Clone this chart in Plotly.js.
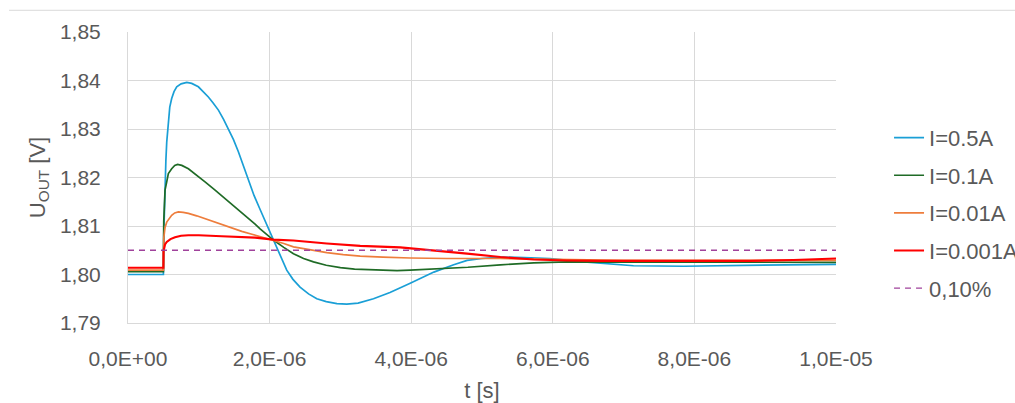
<!DOCTYPE html>
<html>
<head>
<meta charset="utf-8">
<script src="https://cdn.plot.ly/plotly-3.0.1.min.js"></script>
<style>html,body{margin:0;padding:0;background:#fff;}#chart{width:1015px;height:403px;}</style>
</head>
<body>
<div id="chart"></div>
<script>
// I = 0.5 A
const tA = [0, 5.0e-7, 5.05e-7, 5.12e-7, 5.23e-7, 5.35e-7, 5.47e-7, 5.7e-7, 5.9e-7, 6.17e-7, 6.5e-7, 6.88e-7,
  7.5e-7, 8.3e-7, 9.0e-7, 9.94e-7, 1.06e-6, 1.135e-6, 1.2e-6, 1.277e-6, 1.35e-6, 1.418e-6, 1.49e-6,
  1.559e-6, 1.62e-6, 1.677e-6, 1.714e-6, 1.78e-6, 1.866e-6, 1.96e-6, 2.054e-6, 2.15e-6, 2.242e-6,
  2.33e-6, 2.43e-6, 2.55e-6, 2.667e-6, 2.8e-6, 2.95e-6, 3.09e-6, 3.25e-6, 3.467e-6, 3.7e-6, 3.986e-6,
  4.32e-6, 4.6e-6, 4.79e-6, 5.0e-6, 5.26e-6, 5.6e-6, 5.96e-6, 6.44e-6, 7.14e-6, 7.85e-6, 8.55e-6,
  9.3e-6, 1.0e-5];
const uA = [1.8000, 1.8000, 1.8080, 1.8130, 1.8165, 1.8235, 1.8273, 1.8321, 1.8345, 1.8363, 1.8377, 1.8387,
  1.8393, 1.8396, 1.8394, 1.8387, 1.8378, 1.8366, 1.8354, 1.8339, 1.8320, 1.8301, 1.8278,
  1.8253, 1.8228, 1.8205, 1.8187, 1.8163, 1.8134, 1.8102, 1.8071, 1.8039, 1.8009,
  1.7990, 1.7974, 1.7960, 1.7950, 1.7944, 1.7940, 1.7939, 1.7941, 1.7950, 1.7963, 1.7982,
  1.8005, 1.8020, 1.8029, 1.8033, 1.8036, 1.8035, 1.8033, 1.8026, 1.8018, 1.8017, 1.8019,
  1.8020, 1.8021];

// I = 0.1 A
const tB = [0, 5.0e-7, 5.05e-7, 5.23e-7, 5.47e-7, 5.7e-7, 6.17e-7, 6.6e-7, 7.0e-7, 7.6e-7, 8.53e-7,
  9.46e-7, 1.088e-6, 1.23e-6, 1.37e-6, 1.512e-6, 1.65e-6, 1.795e-6, 1.866e-6, 2.054e-6, 2.2e-6,
  2.337e-6, 2.48e-6, 2.62e-6, 2.8e-6, 3.0e-6, 3.2e-6, 3.467e-6, 3.8e-6, 3.986e-6, 4.32e-6, 4.8e-6,
  5.26e-6, 5.73e-6, 6.2e-6, 7.0e-6, 8.0e-6, 9.0e-6, 1.0e-5];
const uB = [1.8006, 1.8006, 1.8110, 1.8174, 1.8191, 1.8208, 1.8218, 1.8225, 1.8227, 1.8225, 1.8218,
  1.8208, 1.8191, 1.8174, 1.8157, 1.8139, 1.8122, 1.8104, 1.8094, 1.8071, 1.8056,
  1.8043, 1.8033, 1.8026, 1.8019, 1.8014, 1.8011, 1.8009, 1.8008, 1.8009, 1.8011, 1.8015,
  1.8020, 1.8024, 1.8026, 1.8026, 1.8025, 1.8025, 1.8025];

// I = 0.01 A
const tC = [0, 5.0e-7, 5.05e-7, 5.23e-7, 5.47e-7, 5.8e-7, 6.17e-7, 6.6e-7, 7.11e-7, 7.8e-7, 8.53e-7,
  9.7e-7, 1.088e-6, 1.2e-6, 1.324e-6, 1.46e-6, 1.607e-6, 1.75e-6, 1.89e-6, 2.054e-6, 2.2e-6,
  2.337e-6, 2.57e-6, 2.808e-6, 3.04e-6, 3.28e-6, 3.6e-6, 3.986e-6, 4.5e-6, 5.26e-6, 6.0e-6,
  7.0e-6, 8.0e-6, 9.0e-6, 1.0e-5];
const uC = [1.8009, 1.8009, 1.8075, 1.8097, 1.8108, 1.8116, 1.8122, 1.8127, 1.8129, 1.8128, 1.8126,
  1.8121, 1.8115, 1.8110, 1.8104, 1.8097, 1.8089, 1.8083, 1.8077, 1.8071, 1.8064,
  1.8057, 1.8051, 1.8045, 1.8041, 1.8038, 1.8036, 1.8034, 1.8033, 1.8033, 1.8031,
  1.8029, 1.8029, 1.8029, 1.8029];

// I = 0.001 A
const tD = [0, 5.0e-7, 5.02e-7, 5.1e-7, 5.23e-7, 5.47e-7, 6.0e-7, 6.64e-7, 7.5e-7, 8.53e-7, 1.0e-6,
  1.324e-6, 1.795e-6, 2.054e-6, 2.337e-6, 2.808e-6, 3.28e-6, 3.845e-6, 4.4e-6, 4.79e-6, 5.26e-6,
  5.73e-6, 6.2e-6, 6.67e-6, 7.5e-6, 8.79e-6, 9.4e-6, 1.0e-5];
const uD = [1.8014, 1.8014, 1.8048, 1.8056, 1.8062, 1.8067, 1.8073, 1.8077, 1.8080, 1.8081, 1.8081,
  1.8079, 1.8076, 1.8072, 1.8070, 1.8064, 1.8059, 1.8056, 1.8049, 1.8043, 1.8036,
  1.8031, 1.8029, 1.8028, 1.8028, 1.8028, 1.8030, 1.8033];

// 0,10 % limit
const tLim = [0, 1.0e-5];
const uLim = [1.805, 1.805];

const seriesNames = ['I=0.5A', 'I=0.1A', 'I=0.01A', 'I=0.001A', '0,10%'];
const xTickVals = [0, 2e-6, 4e-6, 6e-6, 8e-6, 1e-5];
const xTickText = ['0,0E+00', '2,0E-06', '4,0E-06', '6,0E-06', '8,0E-06', '1,0E-05'];
const yTickVals = [1.79, 1.80, 1.81, 1.82, 1.83, 1.84, 1.85];

const FONT = 'Liberation Sans, Arial, sans-serif';
const GRAY = '#595959';

function tr(x, y, name, color, width, group) {
  return {x: x, y: y, name: name, type: 'scatter', mode: 'lines', legendgroup: group,
    line: {color: color, width: width, shape: 'linear'}};
}

const data = [
  tr(tA, uA, seriesNames[0], '#1a9fd6', 1.7, 'a'),
  tr(tB, uB, seriesNames[1], '#1f6b26', 1.7, 'b'),
  tr(tC, uC, seriesNames[2], '#ee7d3c', 1.7, 'c'),
  tr(tD, uD, seriesNames[3], '#ff0000', 2.1, 'd'),
  {x: tLim, y: uLim, name: seriesNames[4], type: 'scatter', mode: 'lines', legendgroup: 'e',
   line: {color: '#a0429b', width: 1.3, dash: '6px,5px'}}
];

const layout = {
  width: 1015, height: 403,
  margin: {l: 128, r: 179, t: 32, b: 80, autoexpand: false},
  paper_bgcolor: '#ffffff', plot_bgcolor: '#ffffff',
  separators: ', ',
  font: {family: FONT, color: GRAY, size: 21},
  showlegend: true,
  legend: {xref: 'container', yref: 'container', x: 0.8759, xanchor: 'left', y: 0.71, yanchor: 'top',
    font: {size: 22, color: GRAY, family: FONT}, tracegroupgap: 6, bgcolor: 'rgba(0,0,0,0)'},
  xaxis: {range: [0, 1e-5], tickvals: xTickVals, ticktext: xTickText, showgrid: true, gridcolor: '#d9d9d9',
    gridwidth: 1, zeroline: false, showline: true, linecolor: '#d9d9d9', linewidth: 1,
    ticks: 'outside', ticklen: 17, tickcolor: 'rgba(0,0,0,0)', tickfont: {size: 21, color: GRAY},
    title: {text: 't [s]', font: {size: 22, color: GRAY}, standoff: 16}, automargin: false},
  yaxis: {range: [1.79, 1.85], tickvals: yTickVals, tickformat: '.2f', showgrid: true, gridcolor: '#d9d9d9',
    gridwidth: 1, zeroline: false, showline: true, linecolor: '#d9d9d9', linewidth: 1,
    ticks: 'outside', ticklen: 22, tickcolor: 'rgba(0,0,0,0)', tickfont: {size: 21, color: GRAY},
    title: {text: 'U<sub>OUT</sub> [V]', font: {size: 22, color: GRAY}, standoff: 8}, automargin: false},
  shapes: [{type: 'line', xref: 'paper', yref: 'paper', x0: -0.168, x1: 1.26, y0: 1.0746, y1: 1.0746,
    line: {color: '#d9d9d9', width: 1}}]
};

Plotly.newPlot('chart', data, layout, {displayModeBar: false, staticPlot: true});
</script>
</body>
</html>
